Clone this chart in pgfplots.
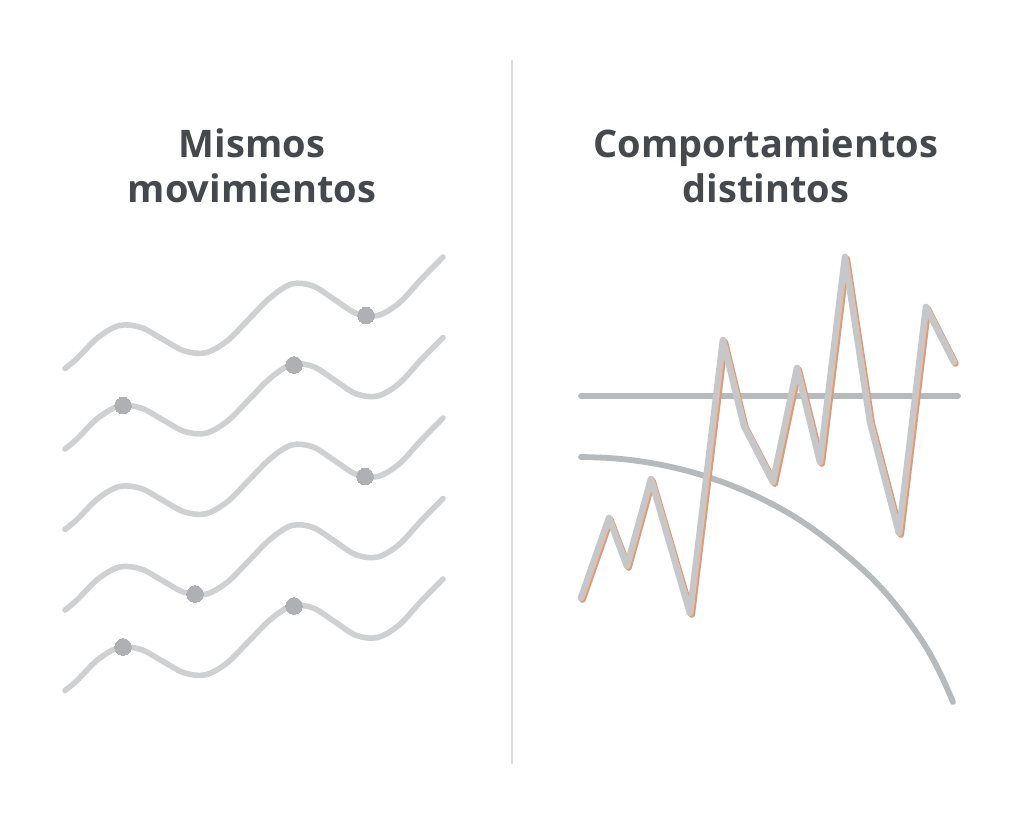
\documentclass[border=0pt]{standalone}
\usepackage{pgfplots}
\pgfplotsset{compat=1.18}
\usepackage{pgfplotstable}
\usepackage{fontspec}
\setmainfont{Open Sans}
\definecolor{wave}{HTML}{CED0D2}
\definecolor{dotc}{HTML}{AEB0B3}
\definecolor{hline}{HTML}{B7BABD}
\definecolor{zig}{HTML}{C5C7C9}
\definecolor{zigor}{HTML}{E8986E}
\definecolor{titlec}{HTML}{45494D}
\definecolor{divc}{HTML}{DCDDDE}

\pgfplotstableread{
x a b c d e
65 368.5 449.0 529.5 610.0 690.5
76.6 358.9 439.4 519.9 600.4 680.9
98.1 337.4 417.9 498.4 578.9 659.4
119.6 325.5 406.0 486.5 567.0 647.5
141.1 327.5 408.0 488.5 569.0 649.5
162.6 339.2 419.7 500.2 580.7 661.2
184.1 350.8 431.3 511.8 592.3 672.8
205.6 352.8 433.3 513.8 594.3 674.8
227.1 340.9 421.4 501.9 582.4 662.9
248.6 319.4 399.9 480.4 560.9 641.4
270.1 297.8 378.3 458.8 539.3 619.8
291.6 284.0 364.5 445.0 525.5 606.0
313.1 286.0 366.5 447.0 527.5 608.0
334.6 299.6 380.1 460.6 541.1 621.6
356.1 313.3 393.8 474.3 554.8 635.3
377.6 315.5 396.0 476.5 557.0 637.5
399.1 303.0 383.5 464.0 544.5 625.0
420.6 279.8 360.3 440.8 521.3 601.8
443 257.0 337.5 418.0 498.5 579.0
}\waves

\pgfplotstableread{
x y
581 598
609 518
627 566
651 479
690 613
723 340
744 426
773 482
797 368
820 462
845 257
870 422
899 533
926 307
954 362
}\zigzag

\pgfplotstableread{
x y
582.5 599.5
610.5 520
628.5 567.5
652.5 481
691.8 614.5
724.8 342
745.5 427.5
774.8 483.5
798.8 370
821.8 463.5
846.8 259
871.8 423.5
900.8 534.5
927.8 309
955.5 363.5
}\zigorange

\pgfplotstableread{
x y
581 457
612 458.2
643 461.7
674 467.6
705 476.1
736 487.3
767 501.4
798 518.9
829 541
860 567
884 591
906 618
926 647
941 675
953 702
}\arc

\begin{document}
\begin{tikzpicture}
\begin{axis}[
  width=1024pt, height=825pt, scale only axis,
  xmin=0, xmax=1024, ymin=0, ymax=825, y dir=reverse,
  axis lines=none, clip=false,
  axis background/.style={fill=white},
]
% divider
\addplot[divc, line width=2pt] coordinates {(512,60) (512,764)};

% titles
\node[font=\fontsize{38}{42}\selectfont\bfseries, text=titlec, anchor=base] at (axis cs:252,157.7) {Mismos};
\node[font=\fontsize{38}{42}\selectfont\bfseries, text=titlec, anchor=base] at (axis cs:252,202.3) {movimientos};
\node[font=\fontsize{38}{42}\selectfont\bfseries, text=titlec, anchor=base] at (axis cs:766,157.7) {Comportamientos};
\node[font=\fontsize{38}{42}\selectfont\bfseries, text=titlec, anchor=base] at (axis cs:766,202.3) {distintos};

% left waves
\addplot[wave, line width=5.6pt, line cap=round, smooth, tension=0.55] table[x=x, y=a] {\waves};
\addplot[wave, line width=5.6pt, line cap=round, smooth, tension=0.55] table[x=x, y=b] {\waves};
\addplot[wave, line width=5.6pt, line cap=round, smooth, tension=0.55] table[x=x, y=c] {\waves};
\addplot[wave, line width=5.6pt, line cap=round, smooth, tension=0.55] table[x=x, y=d] {\waves};
\addplot[wave, line width=5.6pt, line cap=round, smooth, tension=0.55] table[x=x, y=e] {\waves};
\addplot[only marks, mark=*, mark size=8.3pt, mark options={fill=dotc, draw=dotc, line width=0pt}] coordinates {
  (366,315.5) (123,405.5) (294,365) (365,476.5) (195,594) (123,647) (294,606)};

% right panel
\addplot[hline, line width=5.8pt, line cap=round] coordinates {(581,396) (958,396)};
\addplot[hline, line width=5.8pt, line cap=round, smooth, tension=0.6] table {\arc};
\addplot[zigor, line width=6.6pt, line cap=round, line join=round] table {\zigorange};
\addplot[zig, line width=6.6pt, line cap=round, line join=round] table {\zigzag};
\end{axis}
\end{tikzpicture}
\end{document}
